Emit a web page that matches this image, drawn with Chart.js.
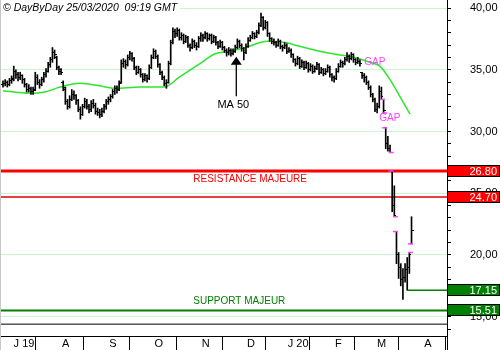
<!DOCTYPE html>
<html>
<head>
<meta charset="utf-8">
<script src="https://cdn.jsdelivr.net/npm/chart.js@4.4.1/dist/chart.umd.min.js"></script>
<style>
  html, body { margin: 0; padding: 0; background: #fff; }
</style>
</head>
<body>
<canvas id="chart" width="500" height="350"></canvas>
<script>
// daily bars, index 0 = late June 2019, last = 25/03/2020
const opens = [
  33.8, 33.9, 34.0, 33.8, 34.1, 34.3, 34.9, 34.6, 34.4, 34.5,
  34.2, 33.8, 33.4, 33.5, 33.2, 33.4, 34.4, 34.0, 33.8, 34.2,
  34.6, 34.9, 35.4, 35.8, 36.4, 36.0, 35.2, 35.0, 34.0, 33.4,
  32.4, 32.0, 32.6, 33.0, 32.9, 32.5, 31.8, 31.4, 32.0, 32.4,
  32.0, 31.8, 32.3, 32.1, 31.6, 31.5, 31.4, 31.6, 32.0, 32.4,
  32.6, 32.8, 33.2, 33.5, 33.4, 34.0, 35.5, 35.7, 35.4, 36.0,
  36.3, 35.9, 35.2, 34.8, 35.0, 34.6, 34.2, 34.5, 34.3, 35.2,
  36.0, 36.5, 36.1, 35.4, 34.8, 34.4, 33.9, 34.0, 35.5, 37.2,
  38.1, 37.9, 38.2, 37.6, 37.8, 37.3, 37.6, 37.0, 36.8, 37.3,
  37.0, 36.9, 37.5, 37.8, 37.6, 37.9, 37.5, 37.8, 37.3, 37.6,
  37.2, 36.9, 37.2, 36.8, 36.6, 36.4, 36.6, 36.3, 36.5, 36.8,
  37.3, 37.0, 36.7, 36.4, 36.9, 37.4, 37.6, 37.9, 37.7, 38.0,
  38.6, 39.2, 38.4, 38.8, 37.9, 37.5, 37.3, 37.2, 37.0, 37.3,
  36.9, 36.8, 37.0, 36.5, 36.6, 36.2, 35.8, 35.5, 35.9, 35.3,
  35.6, 35.2, 35.5, 35.0, 35.3, 34.9, 35.1, 35.4, 34.8, 35.0,
  34.7, 34.9, 35.2, 34.6, 34.4, 34.3, 34.9, 35.3, 35.6, 35.5,
  35.8, 36.1, 35.9, 36.2, 35.8, 35.6, 35.7, 34.8, 34.5, 34.4,
  34.0, 33.6, 33.0, 32.6, 31.8, 32.0, 33.2, 32.6, 30.3, 29.0,
  28.6, 26.8, 24.0, 21.9, 20.0, 19.0, 18.0, 18.2, 18.8, 19.0,
  20.9
];
const highs = [
  34.1, 34.2, 34.1, 34.3, 34.5, 35.3, 35.0, 34.8, 34.8, 34.6,
  34.3, 33.9, 33.8, 33.6, 33.6, 34.8, 34.6, 34.2, 34.4, 34.8,
  35.1, 35.6, 36.0, 36.8, 36.6, 36.1, 35.3, 35.1, 34.1, 33.6,
  32.6, 32.9, 33.4, 33.3, 33.0, 32.6, 32.0, 32.2, 32.7, 32.6,
  32.2, 32.5, 32.6, 32.3, 31.9, 31.8, 31.9, 32.2, 32.6, 32.8,
  33.0, 33.4, 33.7, 33.7, 34.1, 35.8, 35.9, 35.8, 36.2, 36.5,
  36.4, 36.0, 35.3, 35.3, 35.1, 34.7, 34.7, 34.6, 35.4, 36.2,
  36.7, 36.6, 36.2, 35.5, 34.9, 34.5, 34.2, 35.7, 37.4, 38.4,
  38.3, 38.4, 38.3, 38.0, 37.9, 37.8, 37.7, 37.1, 37.5, 37.4,
  37.2, 37.7, 38.0, 37.9, 38.1, 38.0, 37.9, 37.9, 37.8, 37.7,
  37.3, 37.4, 37.3, 36.9, 36.7, 36.8, 36.7, 36.7, 37.0, 37.5,
  37.4, 37.1, 36.8, 37.1, 37.6, 37.8, 38.1, 38.0, 38.2, 38.8,
  39.6, 39.3, 39.0, 38.9, 38.0, 37.6, 37.5, 37.3, 37.5, 37.4,
  37.0, 37.2, 37.1, 36.8, 36.7, 36.3, 35.9, 36.1, 36.0, 35.8,
  35.7, 35.7, 35.6, 35.5, 35.4, 35.3, 35.6, 35.5, 35.2, 35.1,
  35.1, 35.4, 35.3, 34.7, 34.5, 35.1, 35.5, 35.8, 35.7, 36.0,
  36.4, 36.2, 36.4, 36.3, 35.9, 36.0, 35.8, 34.8, 34.7, 34.5,
  34.1, 33.7, 33.1, 32.7, 32.3, 33.7, 33.6, 32.6, 30.3, 29.6,
  28.9, 26.8, 25.6, 21.9, 20.2, 19.3, 18.9, 19.3, 19.8, 20.2,
  23.1
];
const lows = [
  33.6, 33.7, 33.6, 33.7, 33.9, 34.1, 34.3, 34.1, 34.2, 33.9,
  33.6, 33.2, 33.2, 33.0, 33.0, 33.3, 33.8, 33.5, 33.7, 34.0,
  34.4, 34.8, 35.2, 35.6, 35.9, 35.0, 34.6, 34.6, 33.3, 32.2,
  31.8, 31.9, 32.5, 32.6, 32.2, 31.6, 31.0, 31.3, 31.9, 31.8,
  31.5, 31.6, 31.9, 31.4, 31.3, 31.1, 31.2, 31.5, 31.8, 32.2,
  32.4, 32.7, 33.0, 33.1, 33.3, 33.9, 35.2, 35.1, 35.3, 35.8,
  35.7, 35.0, 34.6, 34.7, 34.4, 34.0, 34.1, 34.0, 34.2, 35.1,
  35.9, 35.9, 35.2, 34.6, 34.2, 33.7, 33.5, 33.9, 35.4, 37.1,
  37.6, 37.7, 37.4, 37.4, 37.1, 37.2, 36.8, 36.5, 36.7, 36.8,
  36.6, 36.8, 37.3, 37.3, 37.5, 37.3, 37.4, 37.1, 37.2, 37.0,
  36.7, 36.8, 36.6, 36.4, 36.1, 36.2, 36.1, 36.2, 36.4, 36.7,
  36.8, 36.5, 35.8, 36.3, 36.8, 37.3, 37.5, 37.5, 37.6, 37.9,
  38.5, 38.2, 38.3, 37.7, 37.3, 37.1, 37.0, 36.8, 36.9, 36.7,
  36.5, 36.7, 36.3, 36.4, 36.0, 35.6, 35.3, 35.4, 35.1, 35.2,
  35.0, 35.1, 34.8, 34.9, 34.7, 34.8, 35.0, 34.6, 34.7, 34.5,
  34.6, 34.8, 34.4, 34.1, 34.0, 34.2, 34.8, 35.2, 35.2, 35.4,
  35.7, 35.6, 35.8, 35.6, 35.4, 35.5, 35.3, 34.3, 34.0, 33.8,
  33.4, 32.8, 32.4, 31.6, 31.5, 31.9, 32.6, 31.5, 28.6, 28.4,
  28.3, 23.5, 23.1, 19.3, 18.1, 17.5, 16.4, 17.8, 17.15, 18.5,
  20.9
];
const closes = [
  33.9, 34.0, 33.8, 34.1, 34.2, 34.9, 34.6, 34.4, 34.5, 34.2,
  33.8, 33.4, 33.5, 33.2, 33.3, 34.4, 34.0, 33.8, 34.2, 34.6,
  34.9, 35.4, 35.8, 36.4, 36.2, 35.2, 34.9, 34.8, 33.6, 32.4,
  32.0, 32.6, 33.0, 32.9, 32.5, 31.8, 31.4, 32.0, 32.4, 32.0,
  31.8, 32.3, 32.1, 31.6, 31.5, 31.4, 31.6, 32.0, 32.4, 32.6,
  32.8, 33.2, 33.5, 33.4, 33.9, 35.5, 35.7, 35.4, 36.0, 36.3,
  35.9, 35.2, 34.8, 35.0, 34.6, 34.2, 34.5, 34.3, 35.2, 36.0,
  36.5, 36.1, 35.4, 34.8, 34.4, 33.9, 34.0, 35.5, 37.2, 38.1,
  37.9, 38.2, 37.6, 37.8, 37.3, 37.6, 37.0, 36.8, 37.3, 37.0,
  36.9, 37.5, 37.8, 37.6, 37.9, 37.5, 37.8, 37.3, 37.6, 37.2,
  36.9, 37.2, 36.8, 36.6, 36.4, 36.6, 36.3, 36.5, 36.8, 37.3,
  37.0, 36.7, 36.4, 36.9, 37.4, 37.6, 37.9, 37.7, 38.0, 38.6,
  39.2, 38.4, 38.8, 37.9, 37.5, 37.3, 37.2, 37.0, 37.3, 36.9,
  36.8, 37.0, 36.5, 36.6, 36.2, 35.8, 35.5, 35.9, 35.3, 35.6,
  35.2, 35.5, 35.0, 35.3, 34.9, 35.1, 35.4, 34.8, 35.0, 34.7,
  34.9, 35.2, 34.6, 34.4, 34.3, 34.9, 35.3, 35.6, 35.5, 35.8,
  36.1, 35.9, 36.2, 35.8, 35.6, 35.7, 35.5, 34.5, 34.4, 34.0,
  33.6, 33.0, 32.6, 31.8, 32.0, 33.2, 32.8, 31.7, 29.0, 28.6,
  28.3, 24.0, 23.2, 20.0, 19.0, 18.0, 18.2, 18.8, 19.0, 20.0,
  22.0
];

// 50 day moving average, read at a few bars
const maIdx  = [0, 12.6, 19.5, 26.5, 35.8, 45, 52, 64, 75, 82, 91.6, 98.6, 105.6, 112.6, 123, 131, 138, 147.4, 156.7, 163.7, 170.7, 175.3, 180, 184.7, 189.3];
const maVals = [33.3, 33.1, 33.2, 33.6, 33.9, 33.7, 33.5, 33.6, 33.6, 34.4, 35.5, 36.3, 36.5, 36.8, 37.3, 37.2, 36.9, 36.5, 36.2, 36.0, 35.6, 35.3, 34.2, 32.8, 31.4];

// gap markers
const gapIdx  = [176.5, 177.5, 177.5, 180.5, 180.5, 182.5, 182.5, 189.5, 189.5];
const gapVals = [32.6, 31.5, 30.3, 28.3, 26.8, 23.1, 21.9, 20.2, 20.9];

// horizontal levels
const levels = [26.80, 24.70, 17.15, 15.51];
const levelFrom = [null, null, 188, null];
const panelBottom = 14.4;

// month separators on the x axis
const monthPos = [4, 26.5, 48.5, 69.5, 91.5, 112.5, 131.5, 153.5, 173, 195];
const monthLabels = ['J 19', 'A', 'S', 'O', 'N', 'D', 'J 20', 'F', 'M', 'A'];

const X_MIN = -0.93, X_MAX = 206.5;
const Y_MIN = 13.44, Y_MAX = 40.65;
const FONT = '"Liberation Sans", Arial, sans-serif';

Chart.defaults.font.family = FONT;

function tickImage(side) {
    const c = document.createElement('canvas');
    c.width = 4; c.height = 1;
    const g = c.getContext('2d');
    g.fillStyle = '#000';
    g.fillRect(side === 'left' ? 0 : 2, 0, 2, 1);
    return c;
}

const levelColors = ['#ff0000', '#e00000', '#008000', '#008000'];
const levelWidths = [3, 1.5, 1.5, 2];

const levelSets = levels.map((v, k) => ({
    type: 'line',
    data: [{ x: levelFrom[k] === null ? X_MIN : levelFrom[k], y: v }, { x: X_MAX, y: v }],
    borderColor: levelColors[k],
    borderWidth: levelWidths[k],
    pointRadius: 0,
    order: 6
}));

const decor = {
    id: 'decor',
    beforeDraw(chart) {
        const ctx = chart.ctx;
        ctx.save();
        ctx.fillStyle = '#fff';
        ctx.fillRect(0, 0, chart.width, chart.height);
        ctx.restore();
    },
    afterDraw(chart) {
        const ctx = chart.ctx;
        const x = chart.scales.x, y = chart.scales.y;
        const area = chart.chartArea;
        ctx.save();

        // left frame and axis extension
        ctx.strokeStyle = '#c8c8c8';
        ctx.lineWidth = 1;
        ctx.beginPath();
        ctx.moveTo(0.5, 0); ctx.lineTo(0.5, 350);
        ctx.stroke();
        ctx.strokeStyle = '#000';
        ctx.beginPath();
        ctx.moveTo(Math.round(area.right) + 0.5, area.bottom);
        ctx.lineTo(Math.round(area.right) + 0.5, 350);
        ctx.stroke();

        // header
        ctx.font = 'italic 10.5px ' + FONT;
        const head = '\u00a9 DayByDay 25/03/2020  09:19 GMT';
        const hw = ctx.measureText(head).width;
        ctx.fillStyle = '#fff';
        ctx.fillRect(1, 2, hw + 5, 12);
        ctx.fillStyle = '#000';
        ctx.textBaseline = 'middle';
        ctx.fillText(head, 3, 8);

        // level captions
        ctx.font = '10px ' + FONT;
        ctx.textBaseline = 'top';
        ctx.fillStyle = '#ff0000';
        ctx.fillText('RESISTANCE MAJEURE', x.getPixelForValue(88.5), y.getPixelForValue(levels[0]) + 3);
        ctx.fillStyle = '#008000';
        ctx.textBaseline = 'bottom';
        ctx.fillText('SUPPORT MAJEUR', x.getPixelForValue(88.5), y.getPixelForValue(levels[3]) - 4);

        // gap captions
        ctx.fillStyle = '#ff40ff';
        ctx.textBaseline = 'middle';
        ctx.fillText('GAP', x.getPixelForValue(168), y.getPixelForValue(35.6));
        ctx.fillText('GAP', x.getPixelForValue(175), y.getPixelForValue(31.05));

        // MA 50 arrow
        const ax = x.getPixelForValue(108.5);
        const tip = y.getPixelForValue(36.05);
        const tail = y.getPixelForValue(32.85);
        ctx.fillStyle = '#000';
        ctx.beginPath();
        ctx.moveTo(ax, tip);
        ctx.lineTo(ax - 5.5, tip + 8);
        ctx.lineTo(ax + 5.5, tip + 8);
        ctx.closePath();
        ctx.fill();
        ctx.strokeStyle = '#000';
        ctx.lineWidth = 1.3;
        ctx.beginPath();
        ctx.moveTo(ax, tip + 7);
        ctx.lineTo(ax, tail);
        ctx.stroke();
        ctx.font = '11px ' + FONT;
        ctx.textAlign = 'center';
        ctx.textBaseline = 'top';
        ctx.fillText('MA 50', ax - 3, tail + 3);

        // value boxes on the price axis
        ctx.font = '11px ' + FONT;
        ctx.textAlign = 'right';
        ctx.textBaseline = 'middle';
        ctx.lineWidth = 1;
        levels.forEach((v, k) => {
            const py = Math.round(y.getPixelForValue(v));
            ctx.fillStyle = k < 2 ? '#ff0000' : '#008000';
            ctx.fillRect(447, py - 6, 53, 11);
            ctx.strokeStyle = '#000';
            ctx.strokeRect(447.5, py - 5.5, 52, 11);
            ctx.fillStyle = '#fff';
            ctx.fillText(v.toFixed(2), 497, py + 0.5);
        });
        ctx.restore();
    }
};

new Chart(document.getElementById('chart'), {
    type: 'bar',
    data: {
        datasets: [
            {
                type: 'bar',
                data: highs.map((h, i) => ({ x: i, y: [lows[i], h] })),
                backgroundColor: '#000',
                barThickness: 1,
                grouped: false,
                order: 2
            },
            {
                type: 'scatter',
                data: opens.map((o, i) => ({ x: i, y: o })),
                pointStyle: tickImage('left'),
                pointRadius: 1,
                order: 1
            },
            {
                type: 'scatter',
                data: closes.map((c, i) => ({ x: i, y: c })),
                pointStyle: tickImage('right'),
                pointRadius: 1,
                order: 1
            },
            {
                type: 'line',
                data: maIdx.map((v, i) => ({ x: v, y: maVals[i] })),
                borderColor: '#2ee62e',
                borderWidth: 1.5,
                pointRadius: 0,
                cubicInterpolationMode: 'monotone',
                order: 4
            },
            {
                type: 'scatter',
                data: gapIdx.map((v, i) => ({ x: v, y: gapVals[i] })),
                pointStyle: 'line',
                pointRadius: 2.5,
                borderColor: '#ff40ff',
                borderWidth: 1.5,
                order: 0
            },
            ...levelSets,
            {
                type: 'line',
                data: [{ x: X_MIN, y: panelBottom }, { x: X_MAX, y: panelBottom }],
                borderColor: '#000',
                borderWidth: 1,
                pointRadius: 0,
                order: 6
            }
        ]
    },
    options: {
        responsive: false,
        animation: false,
        layout: { autoPadding: false, padding: { left: 1, top: 0, right: 0, bottom: 0 } },
        plugins: {
            legend: { display: false },
            tooltip: { enabled: false }
        },
        scales: {
            x: {
                type: 'linear',
                position: 'bottom',
                min: X_MIN,
                max: X_MAX,
                offset: false,
                afterBuildTicks: s => { s.ticks = monthPos.map(v => ({ value: v })); },
                afterFit: s => { s.height = 14; s.paddingLeft = 0; s.paddingRight = 0; },
                grid: { drawOnChartArea: false, color: '#000', tickColor: '#000', tickLength: 14 },
                border: { color: '#000' },
                ticks: {
                    autoSkip: false,
                    maxRotation: 0,
                    align: 'start',
                    labelOffset: 2,
                    padding: -13,
                    color: '#000',
                    font: { size: 11 },
                    callback: (v, i) => monthLabels[i]
                }
            },
            y: {
                type: 'linear',
                position: 'right',
                min: Y_MIN,
                max: Y_MAX,
                afterFit: s => { s.width = 53; s.paddingTop = 0; s.paddingBottom = 0; },
                grid: {
                    color: c => (c.tick && c.tick.value % 5 === 0) ? '#cdf5cd' : 'rgba(0,0,0,0)',
                    tickColor: '#000',
                    tickLength: 4
                },
                border: { color: '#000' },
                ticks: {
                    stepSize: 1,
                    includeBounds: false,
                    autoSkip: false,
                    padding: 19,
                    color: '#000',
                    font: { size: 11 },
                    callback: v => v % 5 === 0 ? v.toFixed(2).replace('.', ',') : ''
                }
            }
        }
    },
    plugins: [decor]
});
</script>
</body>
</html>
